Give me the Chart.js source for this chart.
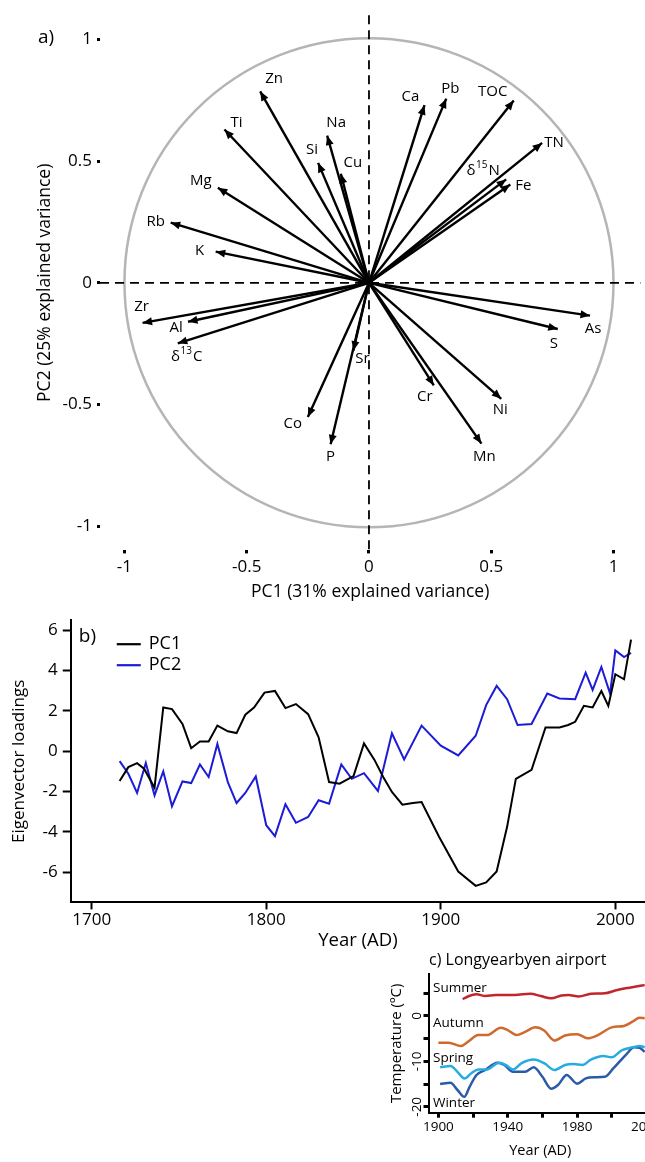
<!DOCTYPE html>
<html>
<head>
<meta charset="utf-8">
<script src="https://cdn.jsdelivr.net/npm/chart.js@4.4.0/dist/chart.umd.min.js"></script>
<style>
html,body{margin:0;padding:0;background:#fff;overflow:hidden;width:645px;height:1162px;}
canvas{position:absolute;}
#ca{left:0;top:0;}
#cb{left:0;top:605px;}
#cc{left:380px;top:940px;}
</style>
</head>
<body>
<canvas id="ca" width="645" height="605"></canvas>
<canvas id="cb" width="645" height="350"></canvas>
<canvas id="cc" width="290" height="222"></canvas>
<script>
// ---- a) PCA loadings ----
const pcaVars = ['Zn','Ti','Na','Si','Cu','Mg','Rb','K','Ca','Pb','TOC','TN','δ15N','Fe','Zr','Al','δ13C','Sr','Co','P','Cr','Mn','Ni','S','As'];
const pc1Load = [-0.445,-0.591,-0.171,-0.208,-0.115,-0.618,-0.811,-0.627,0.227,0.316,0.592,0.708,0.561,0.578,-0.926,-0.740,-0.782,-0.064,-0.250,-0.157,0.265,0.460,0.541,0.772,0.904];
const pc2Load = [0.787,0.630,0.605,0.493,0.448,0.391,0.247,0.128,0.730,0.757,0.749,0.575,0.425,0.404,-0.165,-0.160,-0.249,-0.279,-0.552,-0.664,-0.422,-0.661,-0.477,-0.190,-0.135];
const pcaTicks = [-1,-0.5,0,0.5,1];

// ---- b) eigenvector loadings through time ----
const pc1Years = [1716,1721,1726,1730,1736,1741,1746,1752,1757,1762,1767,1772,1778,1783,1788,1793,1799,1805,1811,1817,1824,1830,1836,1842,1850,1856,1862,1867,1872,1878,1884,1889,1899,1910,1920,1926,1932,1938,1943,1952,1960,1968,1973,1977,1982,1987,1992,1996,2000,2005,2009];
const pc1Vals = [-1.48,-0.79,-0.59,-0.87,-1.81,2.17,2.09,1.35,0.15,0.48,0.48,1.27,0.99,0.90,1.81,2.17,2.91,2.99,2.14,2.34,1.84,0.69,-1.53,-1.61,-1.23,0.39,-0.43,-1.28,-2.02,-2.65,-2.57,-2.52,-4.24,-5.97,-6.68,-6.51,-5.97,-3.75,-1.37,-0.92,1.18,1.18,1.30,1.46,2.25,2.17,2.99,2.25,3.82,3.57,5.54];
const pc2Years = [1716,1721,1726,1731,1736,1741,1746,1752,1757,1762,1767,1772,1778,1783,1788,1794,1800,1805,1811,1817,1824,1830,1836,1843,1849,1856,1864,1872,1879,1889,1900,1910,1920,1926,1932,1938,1944,1952,1961,1968,1977,1983,1987,1992,1997,2000,2005,2009];
const pc2Vals = [-0.49,-1.12,-2.07,-0.58,-2.19,-1.00,-2.73,-1.50,-1.58,-0.66,-1.28,0.36,-1.53,-2.57,-2.07,-1.25,-3.67,-4.21,-2.63,-3.55,-3.26,-2.43,-2.60,-0.66,-1.37,-1.09,-1.97,0.89,-0.41,1.27,0.28,-0.21,0.77,2.29,3.24,2.58,1.30,1.35,2.86,2.62,2.58,3.90,3.04,4.18,2.86,5.00,4.67,4.88];
const bYearTicks = [1700,1800,1900,2000];
const bValTicks = [-6,-4,-2,0,2,4,6];

// ---- c) Longyearbyen airport temperatures ----
const summerYears = [1914,1917,1922,1927,1933,1939,1946,1953,1959,1965,1971,1975,1981,1988,1996,2002,2008,2014,2019];
const summerT = [3.7,4.3,4.8,4.4,4.6,4.6,4.7,4.9,4.4,3.9,4.5,4.6,4.3,4.9,5.0,5.6,6.1,6.5,6.8];
const autumnYears = [1900,1906,1913,1917,1923,1928,1936,1940,1945,1950,1956,1961,1967,1973,1980,1986,1992,2000,2007,2012,2016,2019];
const autumnT = [-5.9,-5.9,-6.6,-5.7,-4.2,-4.2,-2.6,-3.1,-4.2,-3.5,-2.5,-3.2,-5.4,-4.3,-4.0,-4.9,-4.2,-2.5,-2.2,-1.25,-0.4,-0.5];
const springYears = [1901,1907,1911,1915,1919,1923,1928,1935,1939,1943,1948,1955,1961,1967,1973,1978,1983,1988,1995,2000,2006,2012,2016,2019];
const springT = [-11.3,-11.0,-12.3,-13.75,-12.6,-11.8,-11.8,-10.3,-10.8,-11.8,-10.4,-9.6,-10.4,-11.9,-10.8,-10.6,-10.8,-9.6,-8.8,-9.1,-7.5,-6.9,-6.6,-6.9];
const winterYears = [1901,1907,1911,1915,1918,1922,1927,1934,1938,1943,1950,1955,1960,1965,1969,1974,1980,1985,1990,1996,2001,2008,2013,2016,2019];
const winterT = [-15.0,-14.7,-16.3,-17.8,-15.6,-13.0,-11.9,-10.3,-10.8,-12.3,-12.3,-11.3,-13.4,-16.0,-15.2,-13.0,-14.9,-13.75,-13.5,-13.4,-11.5,-8.6,-6.9,-7.0,-7.9];
const cYearTicks = [1900,1920,1940,1960,1980,2000,2020];
const cYearLabels = [1900,1940,1980,2020];
const cTempTicks = [-20,-15,-10,-5,0,5];
const cTempLabels = [-20,-10,0];

const FONT = '"Open Sans", Lato, sans-serif';
Chart.defaults.font.family = FONT;
Chart.defaults.color = '#000';

const zip = (xs, ys) => xs.map((x, i) => ({x, y: ys[i]}));
const fixTicks = vals => scale => { scale.ticks = vals.map(v => ({value: v})); };

// label placement around arrow tips (px, label centre relative to tip)
const labelOffsets = {
  Zn:[14,-13], Ti:[12,-7], Na:[9,-13], Si:[-6,-13], Cu:[12,-11], Mg:[-17,-7], Rb:[-15,-1], K:[-16,-1],
  Ca:[-14,-8], Pb:[4,-10], TOC:[-21,-9], TN:[12,0], 'δ15N':[-23,-9], Fe:[13,1], Zr:[-1,-16], Al:[-12,6],
  'δ13C':[9,13], Sr:[9,8], Co:[-15,7], P:[0,12], Cr:[-9,11], Mn:[3,13], Ni:[-1,11], S:[-4,15], As:[3,13]
};

function drawVarLabel(ctx, text, cx, cy){
  ctx.textBaseline = 'middle';
  ctx.textAlign = 'left';
  const main = '15px ' + FONT, sup = '10px ' + FONT;
  if(text[0] === 'δ'){
    const digits = text.slice(1, 3), rest = text.slice(3);
    ctx.font = main; const w1 = ctx.measureText('δ').width, w3 = ctx.measureText(rest).width;
    ctx.font = sup; const w2 = ctx.measureText(digits).width;
    let x = cx - (w1 + w2 + w3 + 1.5) / 2;
    ctx.font = main; ctx.fillText('δ', x, cy); x += w1 + 0.5;
    ctx.font = sup; ctx.fillText(digits, x, cy - 5); x += w2 + 1;
    ctx.font = main; ctx.fillText(rest, x, cy);
  } else {
    ctx.font = main; ctx.textAlign = 'center';
    ctx.fillText(text, cx, cy);
  }
}

const pcaDecor = {
  id: 'pcaDecor',
  beforeDatasetsDraw(chart){
    const {ctx, chartArea, scales: {x, y}} = chart;
    const cx = x.getPixelForValue(0), cy = y.getPixelForValue(0);
    const r = x.getPixelForValue(1) - cx;
    ctx.save();
    ctx.strokeStyle = '#b5b5b5'; ctx.lineWidth = 2.5;
    ctx.beginPath(); ctx.arc(cx, cy, r, 0, Math.PI * 2); ctx.stroke();
    ctx.strokeStyle = '#000'; ctx.lineWidth = 1.8; ctx.setLineDash([9, 6]);
    ctx.beginPath();
    ctx.moveTo(chartArea.left, cy); ctx.lineTo(chartArea.right, cy);
    ctx.moveTo(cx, chartArea.top); ctx.lineTo(cx, chartArea.bottom);
    ctx.stroke();
    ctx.restore();
  },
  afterDatasetsDraw(chart){
    const {ctx} = chart;
    ctx.save();
    ctx.fillStyle = '#000';
    chart.data.datasets.forEach((ds, i) => {
      const [a, b] = chart.getDatasetMeta(i).data;
      const ang = Math.atan2(b.y - a.y, b.x - a.x);
      const len = 9.5, half = 4;
      ctx.beginPath();
      ctx.moveTo(b.x, b.y);
      ctx.lineTo(b.x - len * Math.cos(ang) + half * Math.sin(ang), b.y - len * Math.sin(ang) - half * Math.cos(ang));
      ctx.lineTo(b.x - len * Math.cos(ang) - half * Math.sin(ang), b.y - len * Math.sin(ang) + half * Math.cos(ang));
      ctx.closePath(); ctx.fill();
      const off = labelOffsets[ds.label] || [0, 0];
      drawVarLabel(ctx, ds.label, b.x + off[0], b.y + off[1]);
    });
    ctx.font = '19px ' + FONT; ctx.textAlign = 'left'; ctx.textBaseline = 'middle';
    ctx.fillText('a)', 38, 38);
    ctx.restore();
  }
};

new Chart(document.getElementById('ca'), {
  type: 'scatter',
  data: {
    datasets: pcaVars.map((name, i) => ({
      label: name,
      data: [{x: 0, y: 0}, {x: pc1Load[i], y: pc2Load[i]}],
      showLine: true, borderColor: '#000', borderWidth: 2.4, pointRadius: 0
    }))
  },
  options: {
    responsive: false, animation: false, events: [],
    layout: {padding: {top: 13.6, right: 4.6, left: 0, bottom: 0}},
    plugins: {legend: {display: false}, tooltip: {enabled: false}},
    scales: {
      x: {
        type: 'linear', min: -1.1, max: 1.11,
        border: {display: false},
        grid: {drawOnChartArea: false, tickLength: 3, tickWidth: 3, tickColor: '#000'},
        ticks: {font: {size: 17}, padding: 4, callback: v => String(v)},
        afterBuildTicks: fixTicks(pcaTicks),
        afterFit: s => { s.height = 54.6; },
        title: {display: true, text: 'PC1 (31% explained variance)', font: {size: 17.5}, padding: {bottom: 2.5, top: 0}}
      },
      y: {
        type: 'linear', min: -1.1, max: 1.1,
        border: {display: false},
        grid: {drawOnChartArea: false, tickLength: 3, tickWidth: 3, tickColor: '#000'},
        ticks: {font: {size: 17}, padding: 5, callback: v => String(v)},
        afterBuildTicks: fixTicks(pcaTicks),
        afterFit: s => { s.width = 100; },
        title: {display: true, text: 'PC2 (25% explained variance)', font: {size: 17.5}, padding: {top: 34.5, bottom: 0}}
      }
    }
  },
  plugins: [pcaDecor]
});

// ---- b) ----
const bDecor = {
  id: 'bDecor',
  afterDatasetsDraw(chart){
    const {ctx, chartArea} = chart;
    ctx.save();
    ctx.textBaseline = 'middle'; ctx.textAlign = 'left';
    ctx.font = '19px ' + FONT;
    ctx.fillText('b)', chartArea.left + 8, chartArea.top + 16);
    ctx.font = '18px ' + FONT;
    chart.data.datasets.forEach((ds, i) => {
      const ly = chartArea.top + 24 + i * 21;
      ctx.strokeStyle = ds.borderColor; ctx.lineWidth = 2.2;
      ctx.beginPath(); ctx.moveTo(chartArea.left + 46, ly); ctx.lineTo(chartArea.left + 70, ly); ctx.stroke();
      ctx.fillText(ds.label, chartArea.left + 78, ly);
    });
    ctx.restore();
  }
};

new Chart(document.getElementById('cb'), {
  type: 'line',
  data: {
    datasets: [
      {label: 'PC1', data: zip(pc1Years, pc1Vals), borderColor: '#000', borderWidth: 2, pointRadius: 0, tension: 0},
      {label: 'PC2', data: zip(pc2Years, pc2Vals), borderColor: '#1c1cd6', borderWidth: 2, pointRadius: 0, tension: 0}
    ]
  },
  options: {
    responsive: false, animation: false, events: [],
    layout: {padding: {top: 13.9, right: 0, left: 0, bottom: 0}},
    plugins: {legend: {display: false}, tooltip: {enabled: false}},
    scales: {
      x: {
        type: 'linear', min: 1688, max: 2017,
        border: {display: true, color: '#000', width: 2},
        grid: {drawOnChartArea: false, tickLength: 7, tickWidth: 2, tickColor: '#000'},
        ticks: {font: {size: 17}, padding: 1, callback: v => String(v)},
        afterBuildTicks: fixTicks(bYearTicks),
        afterFit: s => { s.height = 52.6; },
        title: {display: true, text: 'Year (AD)', font: {size: 18.5}, padding: {bottom: 3.6, top: 0}}
      },
      y: {
        type: 'linear', min: -7.5, max: 6.5,
        border: {display: true, color: '#000', width: 2},
        grid: {drawOnChartArea: false, tickLength: 8, tickWidth: 2, tickColor: '#000'},
        ticks: {font: {size: 17}, padding: 5, callback: v => String(v)},
        afterBuildTicks: fixTicks(bValTicks),
        afterFit: s => { s.width = 70.76; },
        title: {display: true, text: 'Eigenvector loadings', font: {size: 17}, padding: {top: 9.2, bottom: 0}}
      }
    }
  },
  plugins: [bDecor]
});

// ---- c) ----
const seasonLabelY = {Summer: 48, Autumn: 83, Spring: 118, Winter: 163};
const cDecor = {
  id: 'cDecor',
  afterDatasetsDraw(chart){
    const {ctx, chartArea} = chart;
    ctx.save();
    ctx.textBaseline = 'middle'; ctx.textAlign = 'left';
    ctx.font = '16px ' + FONT;
    ctx.fillText('c) Longyearbyen airport', chartArea.left + 0.5, 20);
    ctx.font = '13.5px ' + FONT;
    chart.data.datasets.forEach(ds => {
      ctx.fillText(ds.label, chartArea.left + 4.5, seasonLabelY[ds.label]);
    });
    ctx.restore();
  }
};

const season = (label, xs, ys, color) => ({
  label, data: zip(xs, ys), borderColor: color, borderWidth: 2.5, pointRadius: 0, tension: 0.4, cubicInterpolationMode: 'monotone'
});

new Chart(document.getElementById('cc'), {
  type: 'line',
  data: {
    datasets: [
      season('Summer', summerYears, summerT, '#c0262c'),
      season('Autumn', autumnYears, autumnT, '#cf6a2c'),
      season('Spring', springYears, springT, '#27ace2'),
      season('Winter', winterYears, winterT, '#2b5ba8')
    ]
  },
  options: {
    responsive: false, animation: false, events: [],
    layout: {padding: {top: 34, right: 18, left: 0, bottom: 0}},
    plugins: {legend: {display: false}, tooltip: {enabled: false}},
    scales: {
      x: {
        type: 'linear', min: 1894.3, max: 2023.2,
        border: {display: true, color: '#000', width: 2},
        grid: {drawOnChartArea: false, tickLength: 5, tickWidth: 3, tickColor: '#000'},
        ticks: {font: {size: 13.5}, padding: 1, minRotation: 0, maxRotation: 0, autoSkip: false,
          callback: v => cYearLabels.includes(v) ? String(v) : ''},
        afterBuildTicks: fixTicks(cYearTicks),
        afterFit: s => { s.height = 49.3; },
        title: {display: true, text: 'Year (AD)', font: {size: 14.5}, padding: {bottom: 2.5, top: 0}}
      },
      y: {
        type: 'linear', min: -21.3, max: 9.25,
        border: {display: true, color: '#000', width: 2},
        grid: {drawOnChartArea: false, tickLength: 5, tickWidth: 3, tickColor: '#000'},
        ticks: {font: {size: 13.5}, padding: -4, minRotation: 90, maxRotation: 90, crossAlign: 'center', autoSkip: false,
          callback: v => cTempLabels.includes(v) ? String(v) : ''},
        afterBuildTicks: fixTicks(cTempTicks),
        afterFit: s => { s.width = 48.5; },
        title: {display: true, text: 'Temperature (ºC)', font: {size: 15}, padding: {top: 8, bottom: 0}}
      }
    }
  },
  plugins: [cDecor]
});
</script>
</body>
</html>
